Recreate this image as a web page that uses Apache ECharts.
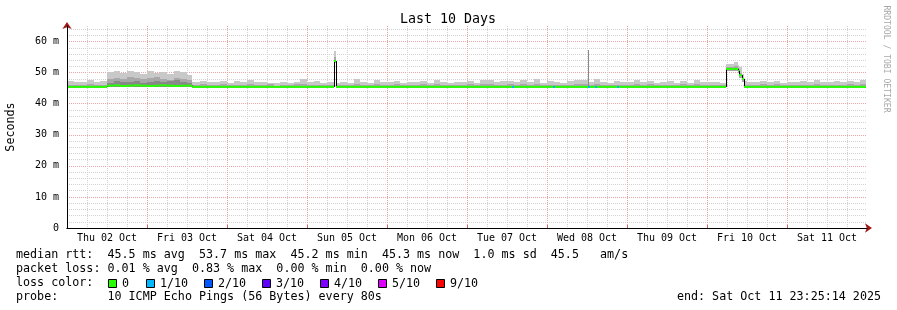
<!DOCTYPE html>
<html><head><meta charset="utf-8">
<script src="https://cdn.jsdelivr.net/npm/echarts@6/dist/echarts.min.js"></script>
<style>html,body{margin:0;padding:0;background:#fff}#c{width:897px;height:310px}</style>
</head><body><div id="c"></div>
<script>
// ---- data (hours since Thu 02 Oct 00:00) ----
const dayLabels = ['Thu 02 Oct','Fri 03 Oct','Sat 04 Oct','Sun 05 Oct','Mon 06 Oct','Tue 07 Oct','Wed 08 Oct','Thu 09 Oct','Fri 10 Oct','Sat 11 Oct'];
const dataEnd = 239.7;
const tStart = [
 0,2,4,6,8,10,
 12,14,16,18,20,22,24,26,28,30,32,34,36,
 37.5,40,42,44,46,48,50,52,54,56,58,60,62,64,66,68,70,72,74,76,78,
 80.0,
 80.7,82,84,86,88,90,92,94,96,98,100,102,104,106,108,110,112,114,116,118,120,122,124,126,128,130,132,134,136,138,140,142,144,146,148,150,152,154,
 156.3,
 156.6,158,160,162,164,166,168,170,172,174,176,178,180,182,184,186,188,190,192,194,196,
 197.7,200,201.3,201.6,202.6,
 203.1,204,206,208,210,212,214,216,218,220,222,224,226,228,230,232,234,236,238
];
const smokeMax = [
 47.2,46.9,47.0,47.5,46.9,47.3,
 50.2,50.6,49.8,50.4,50.1,49.6,50.5,50.0,50.3,49.7,50.4,50.2,49.2,
 47.0,47.4,46.9,47.1,47.3,46.8,47.2,47.0,47.5,46.9,47.1,46.8,46.7,47.0,46.8,47.1,48.0,46.9,47.4,46.8,46.9,
 57.1,
 46.8,47.0,46.7,47.9,47.0,46.8,47.6,46.9,47.1,47.4,46.8,47.0,46.9,47.2,46.8,47.6,47.0,46.7,47.1,46.9,47.3,46.8,47.6,47.5,46.9,47.2,47.3,47.0,47.6,46.9,47.9,46.8,47.3,47.0,46.8,47.2,47.7,47.5,
 57.4,
 47.0,47.9,47.1,46.8,47.2,46.9,47.0,47.7,46.9,47.4,46.8,47.0,47.2,46.7,47.4,46.8,47.5,47.1,46.9,47.0,46.8,
 52.9,53.3,52.6,51.8,49.5,
 47.2,46.9,47.0,47.3,47.0,47.4,46.8,47.1,46.9,47.2,47.0,47.5,47.1,46.9,47.2,47.0,47.4,47.0,47.5
];
const smokeMin = [
 45.2,45.2,45.2,45.2,45.2,45.2,
 45.4,45.4,45.4,45.4,45.4,45.4,45.4,45.4,45.4,45.4,45.4,45.4,45.4,
 45.2,45.2,45.2,45.2,45.2,45.2,45.2,45.2,45.2,45.2,45.2,45.2,45.2,45.2,45.2,45.2,45.2,45.2,45.2,45.2,45.2,
 53.0,
 45.2,45.2,45.2,45.2,45.2,45.2,45.2,45.2,45.2,45.2,45.2,45.2,45.2,45.2,45.2,45.2,45.2,45.2,45.2,45.2,45.2,45.2,45.2,45.2,45.2,45.2,45.2,45.2,45.2,45.2,45.2,45.2,45.2,45.2,45.2,45.2,45.2,45.2,
 45.2,
 45.2,45.2,45.2,45.2,45.2,45.2,45.2,45.2,45.2,45.2,45.2,45.2,45.2,45.2,45.2,45.2,45.2,45.2,45.2,45.2,45.2,
 50.6,50.6,50.0,48.4,47.0,
 45.2,45.2,45.2,45.2,45.2,45.2,45.2,45.2,45.2,45.2,45.2,45.2,45.2,45.2,45.2,45.2,45.2,45.2,45.2
];
const smokeMid = [
 46.0,45.9,46.1,46.2,45.9,46.1,
 48.0,48.4,47.8,48.6,48.2,47.9,48.3,48.6,48.1,47.7,48.4,48.0,47.5,
 46.0,46.2,45.9,46.1,46.3,45.9,46.0,46.1,46.4,45.9,46.0,46.2,45.8,46.1,46.0,46.2,46.3,45.9,46.0,46.1,46.0,
 55.0,
 46.0,46.1,45.9,46.3,46.0,45.9,46.2,46.0,46.1,46.2,45.9,46.0,46.1,46.2,45.9,46.3,46.0,45.9,46.1,46.0,46.2,45.9,46.3,46.2,46.0,46.1,46.2,46.0,46.3,45.9,46.4,46.0,46.1,46.0,45.9,46.1,46.3,46.2,
 57.4,
 46.0,46.3,46.1,45.9,46.1,46.0,46.0,46.3,45.9,46.2,45.9,46.0,46.1,45.9,46.2,46.0,46.2,46.1,45.9,46.0,45.9,
 51.8,52.0,51.4,50.0,48.4,
 46.1,45.9,46.0,46.2,46.0,46.2,45.9,46.1,46.0,46.1,46.0,46.3,46.1,45.9,46.1,46.0,46.2,46.0,46.2
];
const smokeInner = [
 0,0,0,0,0,0,
 46.8,47.2,46.9,47.0,47.4,46.8,47.1,47.3,46.9,47.2,47.5,46.9,46.6,
 0,0,0,0,0,0,0,0,0,0,0,0,0,0,0,0,0,0,0,0,0,
 0,
 0,0,0,0,0,0,0,0,0,0,0,0,0,0,0,0,0,0,0,0,0,0,0,0,0,0,0,0,0,0,0,0,0,0,0,0,0,0,
 57.4,
 0,0,0,0,0,0,0,0,0,0,0,0,0,0,0,0,0,0,0,0,0,
 0,0,0,0,0,
 0,0,0,0,0,0,0,0,0,0,0,0,0,0,0,0,0,0,0
];
const median = [
 45.4,45.4,45.4,45.4,45.4,45.4,
 45.8,45.9,45.7,45.8,45.9,45.8,45.7,45.8,45.9,45.8,45.7,45.8,45.8,
 45.4,45.4,45.4,45.4,45.4,45.4,45.4,45.4,45.4,45.4,45.4,45.4,45.4,45.4,45.4,45.4,45.4,45.4,45.4,45.4,45.4,
 53.7,
 45.4,45.4,45.4,45.4,45.4,45.4,45.4,45.4,45.4,45.4,45.4,45.4,45.4,45.4,45.4,45.4,45.4,45.4,45.4,45.4,45.4,45.4,45.4,45.4,45.4,45.4,45.4,45.4,45.4,45.4,45.4,45.4,45.4,45.4,45.4,45.4,45.4,45.4,
 45.4,
 45.4,45.4,45.4,45.4,45.4,45.4,45.4,45.4,45.4,45.4,45.4,45.4,45.4,45.4,45.4,45.4,45.4,45.4,45.4,45.4,45.4,
 51.2,51.2,50.6,49.2,48.0,
 45.4,45.4,45.4,45.4,45.4,45.4,45.4,45.4,45.4,45.4,45.4,45.4,45.4,45.4,45.4,45.4,45.4,45.4,45.4
];
const lossHour = [133.4,145.7,156.3,158.4,164.9];
const lossLevel = [1,1,1,1,1];
const lossLabels = ['0','1/10','2/10','3/10','4/10','5/10','9/10'];
const lossColors = ['#26ff00','#00b8ff','#0059ff','#5e00ff','#7e00ff','#dd00ff','#ff0000'];
const statLines = [
 'median rtt:  45.5 ms avg  53.7 ms max  45.2 ms min  45.3 ms now  1.0 ms sd  45.5   am/s',
 'packet loss: 0.01 % avg  0.83 % max  0.00 % min  0.00 % now',
 'loss color:',
 'probe:       10 ICMP Echo Pings (56 Bytes) every 80s'
];
const endText = 'end: Sat Oct 11 23:25:14 2025';

// ---- chart ----
const FONT = "'DejaVu Sans Mono', monospace";
const GRAY = '#d2d2d2', PINK = '#eba5a5';
const bucketEnd = i => (i + 1 < tStart.length ? tStart[i + 1] : dataEnd);
const medianAt = h => { let i = 0; while (i + 1 < tStart.length && tStart[i + 1] <= h) i++; return median[i]; };

const smokeData = tStart.map((t, i) => [t, bucketEnd(i), smokeMin[i], smokeMax[i], smokeMid[i], smokeInner[i]]);
const medData = tStart.map((t, i) => [t, bucketEnd(i), median[i], i > 0 ? median[i - 1] : median[i]]);
const lossData = lossHour.map((h, i) => [h, medianAt(h), lossLevel[i]]);

function rectFor(api, t0, t1, lo, hi, fill) {
  const a = api.coord([t0, lo]), b = api.coord([t1, hi]);
  const x0 = Math.round(a[0]), x1 = Math.max(Math.round(b[0]), x0 + 1);
  const y0 = Math.round(a[1]), y1 = Math.round(b[1]);
  return { type: 'rect', shape: { x: x0, y: y1, width: x1 - x0, height: y0 - y1 }, style: { fill: fill } };
}

const chart = echarts.init(document.getElementById('c'));
const gridLines = colors => ({ show: true, showMinLine: false, showMaxLine: false, lineStyle: { color: colors, width: 1, type: [1, 1] } });

chart.setOption({
  animation: false,
  backgroundColor: '#ffffff',
  grid: { left: 67, right: 30, top: 26, bottom: 82 },
  xAxis: [
    // grid: every 6 h, every 4th (midnight) pink
    { type: 'value', min: 0, max: 240, interval: 6, position: 'bottom', z: 0,
      axisLine: { show: false }, axisTick: { show: false }, axisLabel: { show: false },
      splitLine: gridLines([GRAY, GRAY, GRAY, PINK]) },
    // arrow + day ticks (under the black axis line)
    { type: 'value', min: 0, max: 240, interval: 24, position: 'bottom', z: 1,
      axisLine: { show: true, symbol: ['none', 'arrow'], symbolSize: [7, 7], symbolOffset: [0, 5], lineStyle: { color: '#a01818' } },
      axisTick: { show: true, inside: true, length: 3, lineStyle: { color: '#d06060' } },
      axisLabel: { show: false }, splitLine: { show: false } },
    { type: 'value', min: 0, max: 240, interval: 12, position: 'bottom', z: 10,
      axisLine: { show: true, lineStyle: { color: '#000' } }, axisTick: { show: false },
      axisLabel: { fontFamily: FONT, fontSize: 10, color: '#000', margin: 5,
        formatter: v => (v % 24 === 12 ? dayLabels[(v - 12) / 24] : '') },
      splitLine: { show: false } }
  ],
  yAxis: [
    // grid: every 2 ms, every 5th (10 ms) pink
    { type: 'value', min: 0, max: 65, interval: 2, position: 'left', z: 0,
      axisLine: { show: false }, axisTick: { show: false }, axisLabel: { show: false },
      splitLine: gridLines([GRAY, GRAY, GRAY, GRAY, PINK]) },
    { type: 'value', min: 0, max: 65, interval: 10, position: 'left', z: 1,
      axisLine: { show: true, symbol: ['none', 'arrow'], symbolSize: [7, 7], symbolOffset: [0, 4], lineStyle: { color: '#a01818' } },
      axisTick: { show: false }, axisLabel: { show: false }, splitLine: { show: false } },
    { type: 'value', min: 0, max: 65, interval: 10, position: 'left', z: 10,
      axisLine: { show: true, lineStyle: { color: '#000' } }, axisTick: { show: false },
      axisLabel: { fontFamily: FONT, fontSize: 10, color: '#000', margin: 8,
        formatter: v => (v === 0 ? '0' : (v % 10 === 0 ? v + ' m' : '')) },
      splitLine: { show: false } }
  ],
  series: [
    { type: 'custom', name: 'smoke', xAxisIndex: 2, yAxisIndex: 2, z: 5, clip: true,
      encode: { x: [0, 1], y: [2, 3] }, data: smokeData,
      renderItem: (params, api) => {
        const t0 = api.value(0), t1 = api.value(1), lo = api.value(2);
        const ch = [rectFor(api, t0, t1, lo, api.value(3), '#c8c8c8'),
                    rectFor(api, t0, t1, lo, api.value(4), '#a8a8a8')];
        if (api.value(5) > 0) ch.push(rectFor(api, t0, t1, lo, api.value(5), '#888888'));
        return { type: 'group', children: ch };
      } },
    { type: 'custom', name: 'median', xAxisIndex: 2, yAxisIndex: 2, z: 6, clip: true,
      encode: { x: [0, 1], y: [2] }, data: medData,
      renderItem: (params, api) => {
        const t0 = api.value(0), t1 = api.value(1), m = api.value(2), pm = api.value(3);
        const a = api.coord([t0, m]), b = api.coord([t1, m]), p = api.coord([t0, pm]);
        const xa = Math.round(a[0]) + 0.5;
        return { type: 'group', children: [
          { type: 'line', shape: { x1: xa, y1: p[1], x2: xa, y2: a[1] }, style: { stroke: '#000', lineWidth: 1 } },
          { type: 'line', shape: { x1: Math.round(a[0]), y1: a[1], x2: Math.round(b[0]), y2: b[1] }, style: { stroke: lossColors[0], lineWidth: 2 } }
        ] };
      } },
    { type: 'custom', name: 'loss', xAxisIndex: 2, yAxisIndex: 2, z: 7, clip: true,
      encode: { x: 0, y: 1 }, data: lossData,
      renderItem: (params, api) => {
        const h = api.value(0), m = api.value(1);
        const a = api.coord([h, m]), b = api.coord([h + 0.6, m]);
        return { type: 'line', shape: { x1: Math.round(a[0]), y1: a[1], x2: Math.round(b[0]), y2: b[1] },
                 style: { stroke: lossColors[api.value(2)], lineWidth: 2 } };
      } }
  ],
  graphic: [
    { type: 'text', x: 448, y: 20, style: { text: 'Last 10 Days', font: '13.3px ' + FONT, fill: '#000', textAlign: 'center', textVerticalAlign: 'middle', align: 'center', verticalAlign: 'middle' } },
    { type: 'text', x: 11, y: 127, rotation: Math.PI / 2, style: { text: 'Seconds', font: '11.7px ' + FONT, fill: '#000', textAlign: 'center', textVerticalAlign: 'middle', align: 'center', verticalAlign: 'middle' } },
    { type: 'text', x: 886, y: 59, rotation: -Math.PI / 2, style: { text: 'RRDTOOL / TOBI OETIKER', font: '8.1px ' + FONT, fill: '#a8a8a8', textAlign: 'center', textVerticalAlign: 'middle', align: 'center', verticalAlign: 'middle' } }
  ].concat(statLines.map((s, i) => ({ type: 'text', x: 16, y: 254.5 + i * 14.2,
      style: { text: s, font: '11.7px ' + FONT, fill: '#000', textVerticalAlign: 'middle', verticalAlign: 'middle' } })))
   .concat([{ type: 'text', x: 881, y: 297, style: { text: endText, font: '11.7px ' + FONT, fill: '#000', textAlign: 'right', align: 'right', textVerticalAlign: 'middle', verticalAlign: 'middle' } }])
   .concat(lossLabels.map((l, i) => {
      const sx = i === 0 ? 108 : 146 + (i - 1) * 58;
      return { type: 'group', children: [
        { type: 'rect', shape: { x: sx + 0.5, y: 279.5, width: 8, height: 8 }, style: { fill: lossColors[i], stroke: '#000', lineWidth: 1 } },
        { type: 'text', x: sx + 14, y: 283.5, style: { text: l, font: '11.7px ' + FONT, fill: '#000', textVerticalAlign: 'middle', verticalAlign: 'middle' } }
      ] };
   }))
});
</script>
</body></html>
